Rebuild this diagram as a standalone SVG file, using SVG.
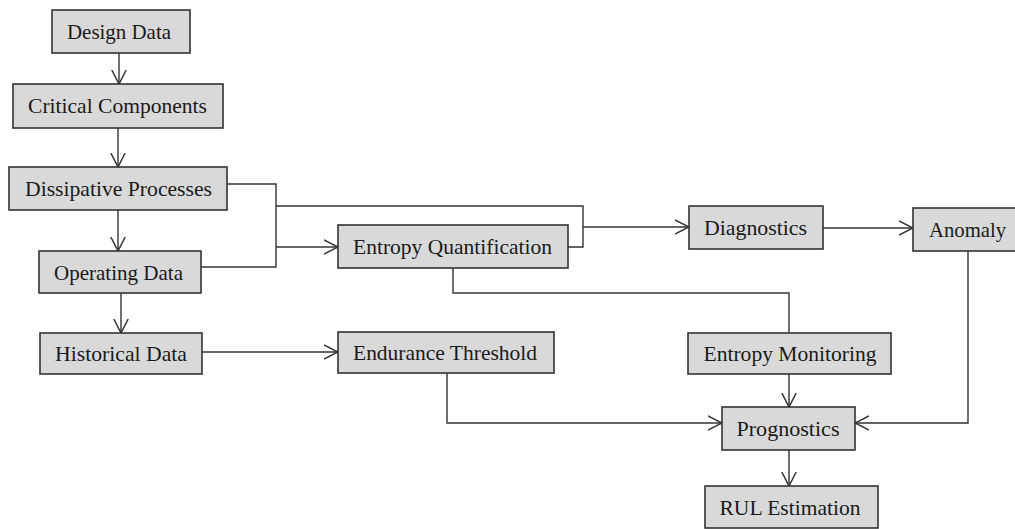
<svg xmlns="http://www.w3.org/2000/svg" width="1015" height="529" viewBox="0 0 1015 529">
<style>
.box{fill:#d9d9d9;stroke:#333;stroke-width:1.6}
.lbl{font-family:"Liberation Serif","Times New Roman",serif;font-size:21px;fill:#1a1a1a;text-anchor:middle}
.c{fill:none;stroke:#333;stroke-width:1.4}
</style>
<defs>
<marker id="ah" viewBox="0 0 14 16" refX="14" refY="8" markerWidth="14" markerHeight="16" markerUnits="userSpaceOnUse" orient="auto">
<path d="M0,0.8 L14,8 L0,15.2" fill="none" stroke="#333" stroke-width="1.5"/>
</marker>
</defs>
<rect width="1015" height="529" fill="#fff"/>
<g id="connectors">
<line class="c" x1="119" y1="53" x2="119" y2="84" marker-end="url(#ah)"/>
<line class="c" x1="118" y1="128" x2="118" y2="167" marker-end="url(#ah)"/>
<line class="c" x1="118" y1="210" x2="118" y2="251" marker-end="url(#ah)"/>
<line class="c" x1="121" y1="293" x2="121" y2="333" marker-end="url(#ah)"/>
<polyline class="c" points="227,184 276,184 276,267 201,267"/>
<polyline class="c" points="276,206 583,206 583,247 568,247"/>
<line class="c" x1="276" y1="247" x2="338" y2="247" marker-end="url(#ah)"/>
<line class="c" x1="583" y1="227" x2="689" y2="227" marker-end="url(#ah)"/>
<line class="c" x1="823" y1="228" x2="913" y2="228" marker-end="url(#ah)"/>
<polyline class="c" points="453,268 453,293 789,293 789,333"/>
<line class="c" x1="202" y1="352" x2="338" y2="352" marker-end="url(#ah)"/>
<polyline class="c" points="447,373 447,423 722,423" marker-end="url(#ah)"/>
<line class="c" x1="789" y1="374" x2="789" y2="407" marker-end="url(#ah)"/>
<polyline class="c" points="968,251 968,423 855,423" marker-end="url(#ah)"/>
<line class="c" x1="789" y1="450" x2="789" y2="486" marker-end="url(#ah)"/>
</g>
<g id="design-data"><rect class="box" x="52" y="10" width="138" height="43"/><text class="lbl" x="119" y="39" textLength="104" lengthAdjust="spacingAndGlyphs">Design Data</text></g>
<g id="critical-components"><rect class="box" x="13" y="84" width="210" height="44"/><text class="lbl" x="117.5" y="113" textLength="179" lengthAdjust="spacingAndGlyphs">Critical Components</text></g>
<g id="dissipative-processes"><rect class="box" x="9" y="167" width="218" height="43"/><text class="lbl" x="118.5" y="196" textLength="187" lengthAdjust="spacingAndGlyphs">Dissipative Processes</text></g>
<g id="operating-data"><rect class="box" x="39" y="251" width="162" height="42"/><text class="lbl" x="118.5" y="280" textLength="129" lengthAdjust="spacingAndGlyphs">Operating Data</text></g>
<g id="historical-data"><rect class="box" x="40" y="333" width="162" height="41"/><text class="lbl" x="121" y="361" textLength="132" lengthAdjust="spacingAndGlyphs">Historical Data</text></g>
<g id="entropy-quantification"><rect class="box" x="338" y="225" width="230" height="43"/><text class="lbl" x="452.5" y="254" textLength="199" lengthAdjust="spacingAndGlyphs">Entropy Quantification</text></g>
<g id="endurance-threshold"><rect class="box" x="338" y="332" width="216" height="41"/><text class="lbl" x="445" y="360" textLength="184" lengthAdjust="spacingAndGlyphs">Endurance Threshold</text></g>
<g id="diagnostics"><rect class="box" x="689" y="206" width="134" height="43"/><text class="lbl" x="755.5" y="235" textLength="103" lengthAdjust="spacingAndGlyphs">Diagnostics</text></g>
<g id="anomaly"><rect class="box" x="913" y="208" width="110" height="43"/><text class="lbl" x="967.5" y="237" textLength="77" lengthAdjust="spacingAndGlyphs">Anomaly</text></g>
<g id="entropy-monitoring"><rect class="box" x="688" y="333" width="203" height="41"/><text class="lbl" x="790" y="361" textLength="173" lengthAdjust="spacingAndGlyphs">Entropy Monitoring</text></g>
<g id="prognostics"><rect class="box" x="722" y="407" width="133" height="43"/><text class="lbl" x="788" y="436" textLength="103" lengthAdjust="spacingAndGlyphs">Prognostics</text></g>
<g id="rul-estimation"><rect class="box" x="705" y="486" width="173" height="42"/><text class="lbl" x="790" y="515" textLength="141" lengthAdjust="spacingAndGlyphs">RUL Estimation</text></g>
</svg>
